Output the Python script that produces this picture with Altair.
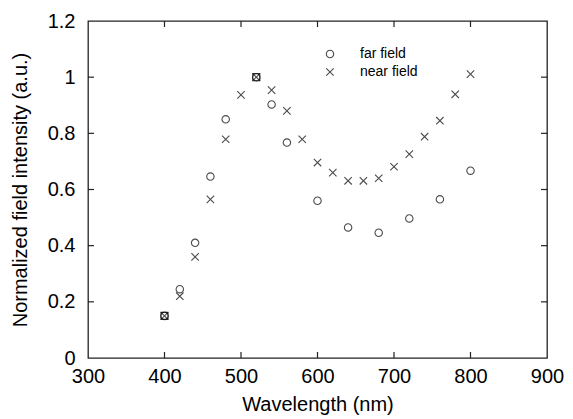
import altair as alt
import pandas as pd

far_wl = [400, 420, 440, 460, 480, 520, 540, 560, 600, 640, 680, 720, 760, 800]
far_val = [0.15, 0.245, 0.41, 0.646, 0.85, 1.0, 0.903, 0.767, 0.56, 0.465, 0.446, 0.497, 0.565, 0.667]

near_wl = [400, 420, 440, 460, 480, 500, 520, 540, 560, 580, 600, 620, 640, 660, 680, 700, 720, 740, 760, 780, 800]
near_val = [0.15, 0.22, 0.36, 0.565, 0.779, 0.937, 1.0, 0.954, 0.88, 0.779, 0.696, 0.66, 0.631, 0.631, 0.64, 0.681, 0.726, 0.788, 0.845, 0.939, 1.011]

series_names = ["far field", "near field"]
x_ticks = [300, 400, 500, 600, 700, 800, 900]
y_ticks = [0, 0.2, 0.4, 0.6, 0.8, 1.0, 1.2]

rows = [{"wl": w, "v": v, "series": series_names[0]} for w, v in zip(far_wl, far_val)]
rows += [{"wl": w, "v": v, "series": series_names[1]} for w, v in zip(near_wl, near_val)]
df = pd.DataFrame(rows)

far_map = dict(zip(far_wl, far_val))
both = pd.DataFrame([{"wl": w, "v": v} for w, v in zip(near_wl, near_val)
                     if w in far_map and abs(far_map[w] - v) < 1e-9])

W, H, T = 459, 337, 6
FONT = "Liberation Sans"
xscale = alt.Scale(domain=[300, 900], nice=False)
yscale = alt.Scale(domain=[0, 1.2], nice=False)

# tick marks as data (positions from tick lists; tick length converted to data units)
tx = x_ticks[1:-1]
ty = y_ticks[1:-1]
dy = 1.2 * T / H
dx = 600 * T / W
tick_rows = []
for w in tx:
    tick_rows.append({"x1": w, "x2": w, "y1": 0.0, "y2": dy})
    tick_rows.append({"x1": w, "x2": w, "y1": 1.2, "y2": 1.2 - dy})
for v in ty:
    tick_rows.append({"x1": 300.0, "x2": 300.0 + dx, "y1": v, "y2": v})
    tick_rows.append({"x1": 900.0, "x2": 900.0 - dx, "y1": v, "y2": v})
ticks_df = pd.DataFrame(tick_rows)

x_axis = alt.Axis(values=x_ticks, orient="bottom", ticks=False,
                  domain=False, grid=False, labelPadding=8,
                  labelFontSize=20, titleFontSize=20, labelColor="black",
                  titleColor="black", titleFontWeight="normal",
                  labelFont=FONT, titleFont=FONT, titlePadding=8, labelFlush=False)
y_axis = alt.Axis(values=y_ticks, format="~g", orient="left", ticks=False,
                  domain=False, grid=False, labelPadding=13,
                  labelFontSize=20, titleFontSize=20, labelColor="black",
                  titleColor="black", titleFontWeight="normal",
                  labelFont=FONT, titleFont=FONT, titlePadding=17, labelFlush=False)

XT = "Wavelength (nm)"
YT = "Normalized field intensity (a.u.)"
cross_path = "M-1,-1L1,1M1,-1L-1,1"

points = alt.Chart(df).mark_point(filled=False, size=55, strokeWidth=1.1, color="black").encode(
    x=alt.X("wl:Q", scale=xscale, title=XT, axis=x_axis),
    y=alt.Y("v:Q", scale=yscale, title=YT, axis=y_axis),
    shape=alt.Shape("series:N",
                    scale=alt.Scale(domain=series_names, range=["circle", cross_path]),
                    legend=alt.Legend(title=None, orient="none", legendX=235, legendY=26,
                                      labelFontSize=14, labelFont=FONT, labelColor="black",
                                      symbolSize=55, symbolStrokeColor="black",
                                      symbolStrokeWidth=1.1, labelOffset=23,
                                      rowPadding=4, symbolType="circle")),
)

boxes = alt.Chart(both).mark_square(filled=False, size=50, strokeWidth=1.1, color="black").encode(
    x=alt.X("wl:Q", scale=xscale, title=XT, axis=x_axis),
    y=alt.Y("v:Q", scale=yscale, title=YT, axis=y_axis),
)

frame_ticks = alt.Chart(ticks_df).mark_rule(color="#222", strokeWidth=1.2).encode(
    x=alt.X("x1:Q", scale=xscale, title=XT, axis=x_axis),
    x2="x2:Q",
    y=alt.Y("y1:Q", scale=yscale, title=YT, axis=y_axis),
    y2="y2:Q",
)

chart = alt.layer(points, boxes, frame_ticks).properties(
    width=W, height=H,
    autosize=alt.AutoSizeParams(type="none"),
    padding={"left": 80, "top": 13, "right": 18, "bottom": 60},
    background="white",
).configure_view(stroke="#222", strokeWidth=1.3)

chart.save("out.html", embed_options={"renderer": "svg", "actions": False})
